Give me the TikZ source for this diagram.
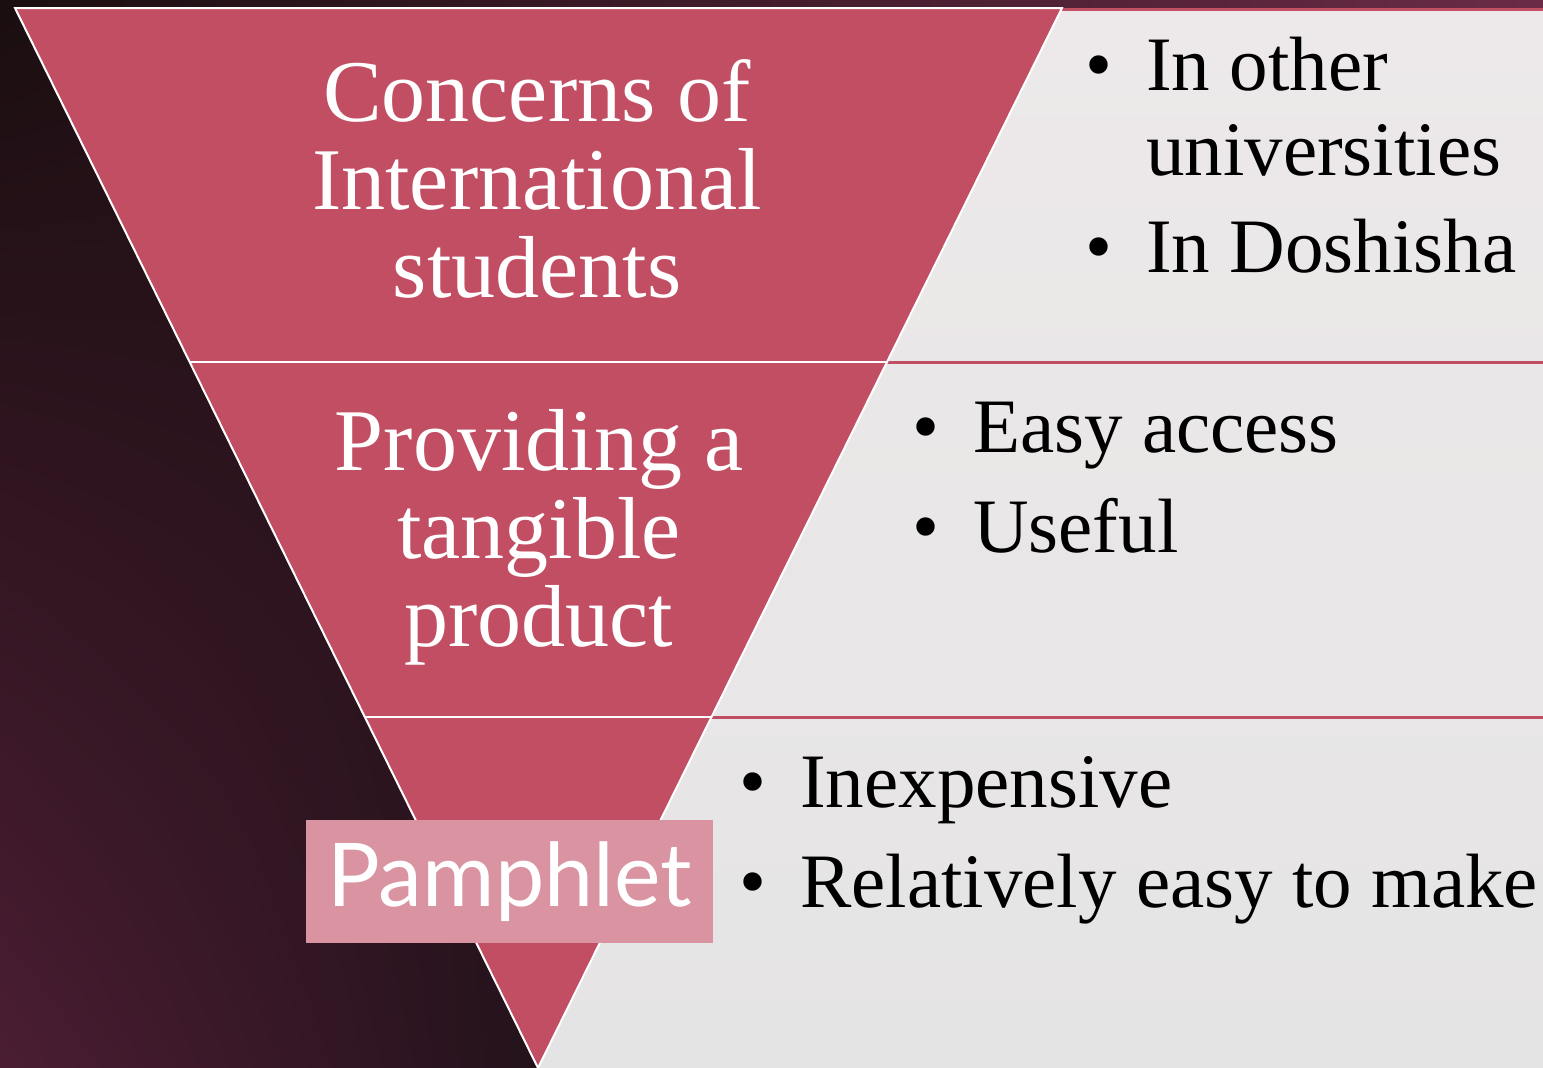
\documentclass[tikz,border=0pt]{standalone}
\usepackage{fontspec}
\usetikzlibrary{shadings}
\setmainfont{Liberation Serif}
\newfontfamily\pamfont{Lato}
\definecolor{band}{HTML}{C24E63}
\definecolor{pamph}{HTML}{D993A1}
\definecolor{panelhi}{HTML}{EDE9EA}
\definecolor{panello}{HTML}{E5E4E4}
\definecolor{bgdark}{HTML}{1A0E10}
\definecolor{bgplum}{HTML}{4B1D33}
\definecolor{bgmid}{HTML}{22121A}
\definecolor{bgtop}{HTML}{6B2B47}

\begin{document}
\begin{tikzpicture}[x=1pt,y=-1pt,
    bandtext/.style={text=white, align=center, font=\fontsize{88}{88}\selectfont},
    itemtext/.style={anchor=base west, inner sep=0pt, font=\fontsize{77}{85}\selectfont},
    bullet/.style={anchor=base west, inner sep=0pt, font=\fontsize{77}{85}\selectfont},
    whiteline/.style={draw=white, line width=2pt},
    pinkline/.style={draw=band, line width=3pt}]
    \useasboundingbox (0,0) rectangle (1543,1068);

    % background
    \shade[upper left=bgdark, lower left=bgplum, upper right=bgdark!70!bgplum, lower right=bgmid]
        (0,0) rectangle (560,1068);
    \shade[left color=bgdark, right color=bgtop] (0,0) rectangle (1543,9);

    % corners of the funnel
    \coordinate (tl) at (15,8);
    \coordinate (tr) at (1062,8);
    \coordinate (apex) at (538,1068);
    \coordinate (l1) at (190,362);
    \coordinate (r1) at (887,362);
    \coordinate (l2) at (365,717);
    \coordinate (r2) at (712,717);
    \coordinate (e0) at (1543,9);
    \coordinate (e1) at (1543,362);
    \coordinate (e2) at (1543,717);

    % right panel
    \shade[top color=panelhi, bottom color=panello]
        (tr) -- (1543,8) -- (1543,1068) -- (apex) -- cycle;
    \path[pinkline] (1062,9) -- (e0);
    \path[pinkline] (r1) -- (e1);
    \path[pinkline] (r2) -- (e2);

    % funnel
    \fill[band] (tl) -- (tr) -- (apex) -- cycle;
    \path[whiteline] (tl) -- (tr) -- (apex) -- cycle;
    \path[whiteline] (l1) -- (r1);
    \path[whiteline] (l2) -- (r2);

    \node[bandtext] (concerns) at (537,179) {Concerns of\\International\\students};
    \node[bandtext] (providing) at (539,537) {Providing a\\tangible\\product};
    \node[fill=pamph, text=white, minimum width=407pt, minimum height=123pt,
          font=\pamfont\fontsize{88}{88}\selectfont] (pamphlet) at (509.5,881.5) {Pamphlet};

    % items
    \node[bullet] (b1) at (1085,90) {•};
    \node[itemtext] (other) at (1146,90) {In other};
    \node[itemtext] (univ) at (1146,175) {universities};
    \node[bullet] (b2) at (1085,272) {•};
    \node[itemtext] (doshisha) at (1146,272) {In Doshisha};

    \node[bullet] (b3) at (912,452) {•};
    \node[itemtext] (easy) at (973,452) {Easy access};
    \node[bullet] (b4) at (912,552) {•};
    \node[itemtext] (useful) at (973,552) {Useful};

    \node[bullet] (b5) at (739,807) {•};
    \node[itemtext] (cheap) at (800,807) {Inexpensive};
    \node[bullet] (b6) at (739,907) {•};
    \node[itemtext] (make) at (800,907) {Relatively easy to make};
\end{tikzpicture}
\end{document}
